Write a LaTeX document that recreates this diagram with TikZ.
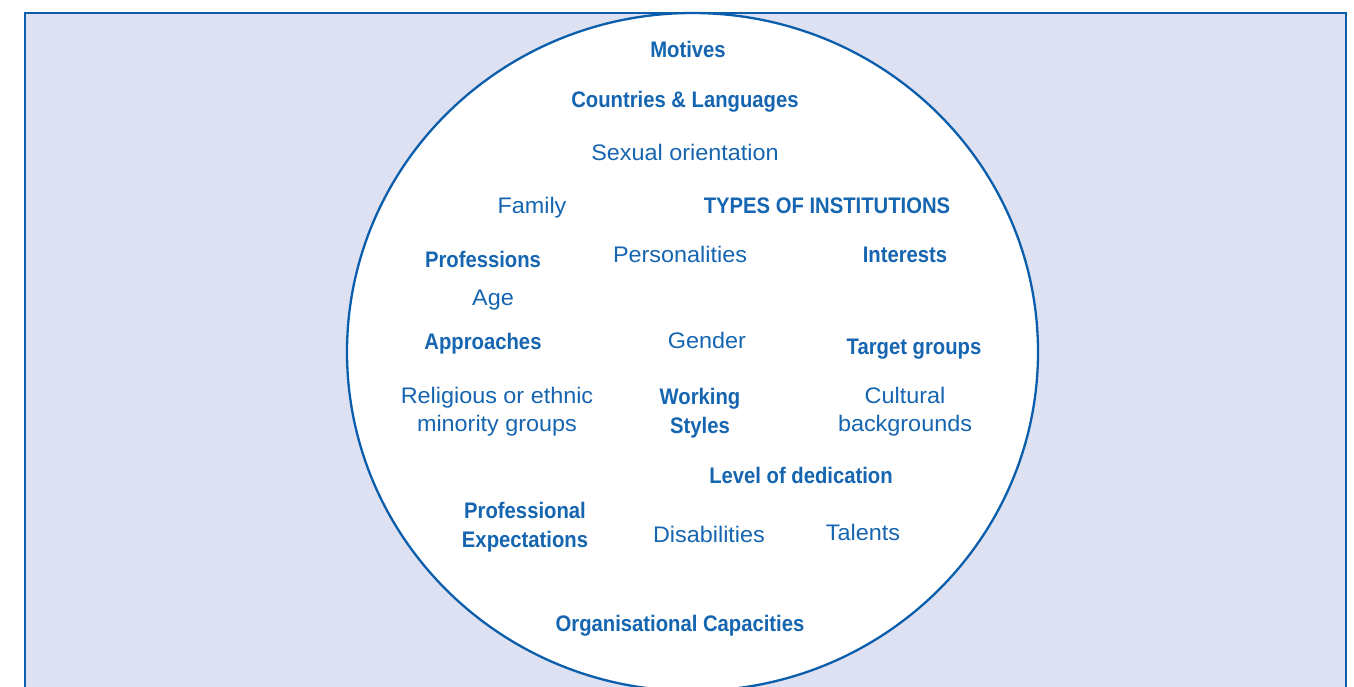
\documentclass[tikz,border=0pt]{standalone}
\usepackage{fontspec}
\setmainfont[FakeStretch=1.04]{Liberation Sans}
\newfontfamily\boldfam[FakeStretch=0.9]{Liberation Sans Bold}
\definecolor{frameblue}{HTML}{0B5EAC}
\definecolor{textblue}{HTML}{1565B0}
\definecolor{lavender}{HTML}{DEE1F1}
\tikzset{
  lbl/.style={anchor=base, text=textblue, font=\fontsize{22.5}{28}\selectfont, align=center, inner sep=0pt},
  blbl/.style={anchor=base, text=textblue, font=\fontsize{22.5}{29}\boldfam, align=center, inner sep=0pt},
}
\begin{document}
\begin{tikzpicture}[x=1pt,y=-1pt]
\useasboundingbox (0,0) rectangle (1354,686);
\clip (0,0) rectangle (1354,686);
\draw[frameblue, line width=2.3pt, fill=lavender] (25,13) rectangle (1346,720);
\draw[frameblue, line width=2.3pt, fill=white] (692.5,352) ellipse [x radius=345.5, y radius=339];
\node[blbl] (motives) at (688,57) {Motives};
\node[blbl] (countries) at (685,107) {Countries \& Languages};
\node[lbl] (sexual) at (685,160) {Sexual orientation};
\node[lbl] (family) at (532,213) {Family};
\node[blbl] (types) at (827,213) {TYPES OF INSTITUTIONS};
\node[blbl] (professions) at (483,267) {Professions};
\node[lbl] (personalities) at (680,262) {Personalities};
\node[blbl] (interests) at (905,262) {Interests};
\node[lbl] (age) at (493,305) {Age};
\node[blbl] (approaches) at (483,349) {Approaches};
\node[lbl] (gender) at (707,348) {Gender};
\node[blbl] (target) at (914,354) {Target groups};
\node[lbl] (religious) at (497,431) {Religious or ethnic\\minority groups};
\node[blbl] (working) at (700,433) {Working\\Styles};
\node[lbl] (cultural) at (905,431) {Cultural\\backgrounds};
\node[blbl] (level) at (801,483) {Level of dedication};
\node[blbl] (profexp) at (525,547) {Professional\\Expectations};
\node[lbl] (disab) at (709,542) {Disabilities};
\node[lbl] (talents) at (863,540) {Talents};
\node[blbl] (orgcap) at (680,631) {Organisational Capacities};
\end{tikzpicture}
\end{document}
